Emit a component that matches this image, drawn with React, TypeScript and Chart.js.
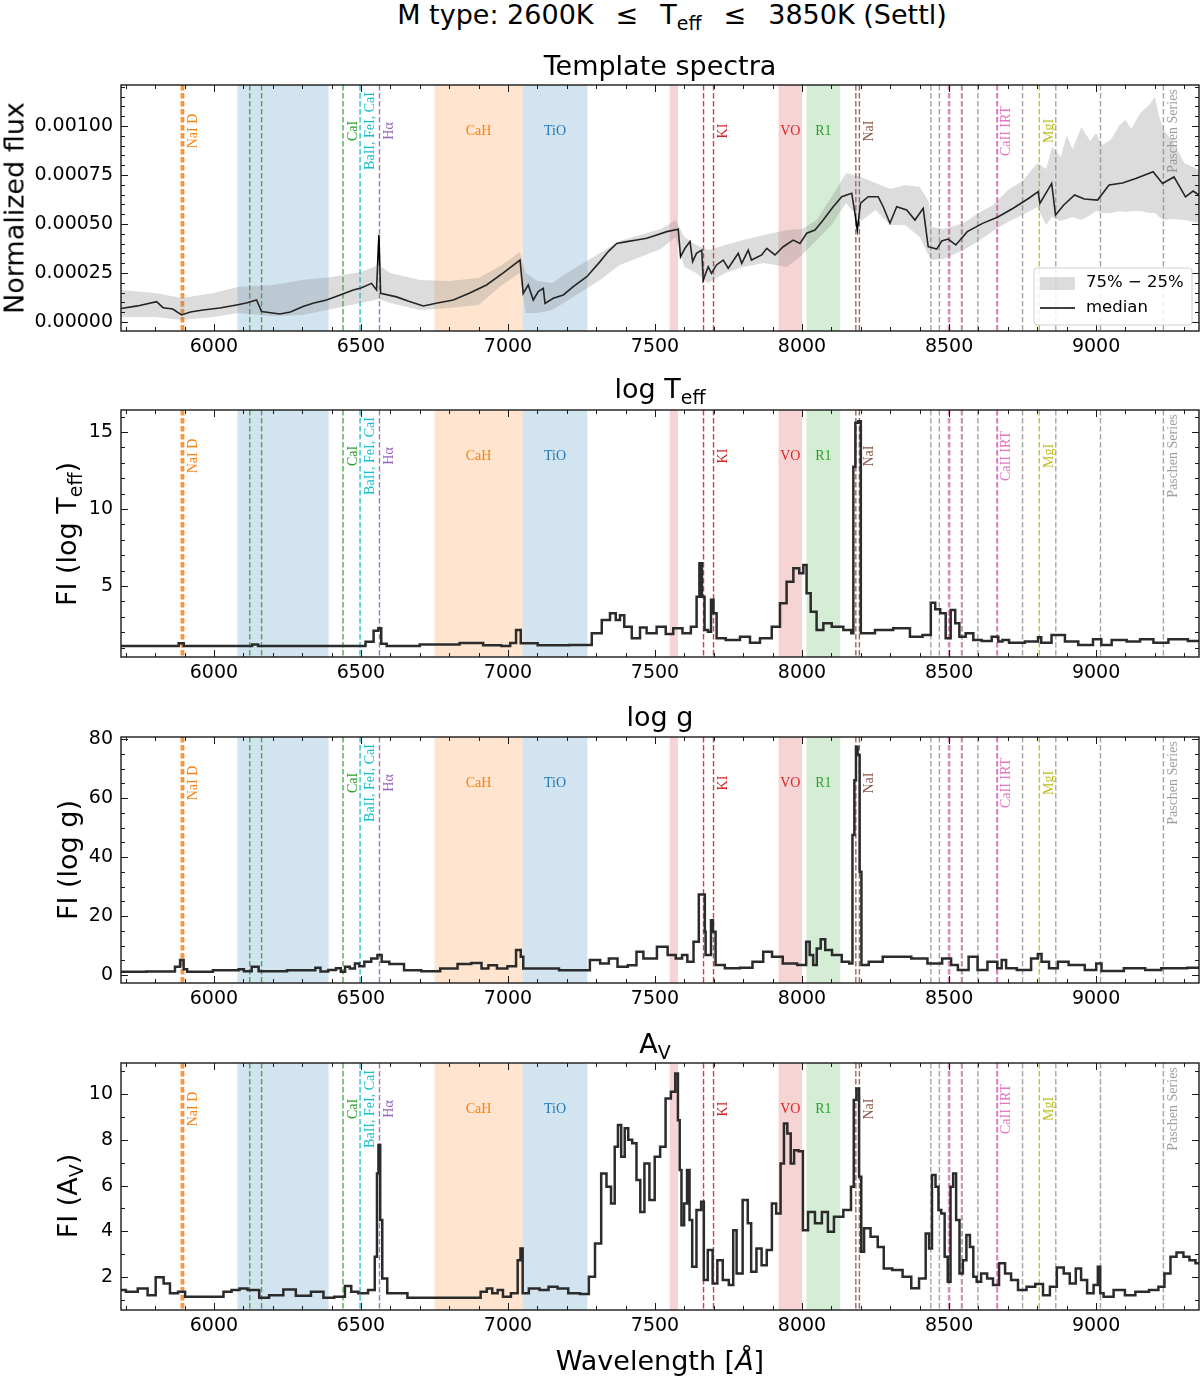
import { useEffect, useRef } from 'react'
import Chart from 'chart.js/auto'

type Pt = [number, number]

const X_MIN = 5684
const X_MAX = 9350
const xTicks = [6000, 6500, 7000, 7500, 8000, 8500, 9000]

// template spectrum, flux in units of 1e-5
const fluxMedian: Pt[] = [
  [5684, 6.9], [5740, 8.2], [5805, 10.4], [5827, 7.3], [5860, 6.6], [5890, 3.6], [5920, 5.1], [5963, 6.1],
  [6020, 7.1], [6077, 8.7], [6110, 9.7], [6145, 11.2], [6162, 5.3], [6224, 4.1], [6260, 5.1], [6303, 7.9],
  [6340, 9.7], [6383, 11.2], [6420, 13.3], [6474, 16.3], [6500, 17.3], [6536, 19.7], [6553, 16.3], [6561, 44.4],
  [6567, 14.6], [6621, 12.8], [6660, 10.7], [6712, 8.2], [6760, 9.7], [6814, 11.2], [6870, 14.8], [6927, 18.9],
  [6984, 25.0], [7041, 31.6], [7052, 14.6], [7069, 18.9], [7086, 11.2], [7103, 15.5], [7120, 17.2], [7126, 9.5],
  [7154, 12.1], [7188, 13.8], [7222, 18.0], [7268, 23.1], [7313, 30.8], [7341, 35.9], [7370, 40.1], [7404, 41.0],
  [7438, 41.8], [7472, 42.7], [7506, 44.4], [7540, 46.1], [7579, 47.3], [7587, 33.3], [7602, 37.6], [7619, 41.0],
  [7628, 30.8], [7641, 35.0], [7659, 36.7], [7664, 21.4], [7681, 28.2], [7692, 24.8], [7709, 29.1], [7732, 31.6],
  [7749, 27.4], [7783, 35.0], [7795, 29.9], [7817, 36.7], [7828, 31.6], [7863, 34.2], [7880, 37.6], [7908, 34.2],
  [7936, 38.4], [7970, 41.8], [7993, 40.1], [8016, 45.3], [8044, 46.9], [8072, 52.0], [8106, 58.8], [8135, 63.9],
  [8169, 65.7], [8180, 55.5], [8188, 46.9], [8199, 60.6], [8225, 63.9], [8259, 63.9], [8276, 58.8], [8299, 50.4],
  [8322, 58.8], [8356, 57.1], [8384, 52.0], [8412, 58.0], [8429, 38.4], [8458, 37.2], [8475, 41.3], [8497, 42.3],
  [8523, 39.3], [8562, 46.1], [8614, 50.3], [8666, 53.6], [8718, 58.0], [8770, 63.0], [8803, 66.5], [8809, 60.5],
  [8849, 70.7], [8862, 54.6], [8890, 59.7], [8927, 64.8], [8960, 62.7], [9005, 62.2], [9044, 69.9], [9090, 70.9],
  [9135, 73.2], [9194, 76.7], [9226, 70.7], [9265, 74.0], [9304, 63.8], [9330, 66.8], [9350, 64.8],
]

// [wavelength, 25th percentile, 75th percentile], units of 1e-5
const fluxQuartiles: [number, number, number][] = [
  [5684, 2.5, 16.3], [5800, 2.5, 14.8], [5890, 1.0, 12.2], [6000, 2.5, 14.8], [6080, 4.6, 17.9], [6200, 3.1, 18.9],
  [6300, 3.6, 21.4], [6400, 6.6, 23.0], [6500, 9.7, 25.5], [6560, 11.7, 29.1], [6600, 9.7, 25.0], [6700, 6.1, 21.4],
  [6800, 7.1, 20.9], [6900, 8.7, 22.4], [6980, 18.9, 29.1], [7040, 25.0, 35.7], [7060, 4.6, 25.0], [7100, 4.6, 20.9],
  [7150, 6.1, 19.9], [7200, 10.7, 25.0], [7313, 21.4, 35.2], [7380, 29.1, 41.3], [7450, 33.2, 44.4], [7520, 37.2, 47.4],
  [7570, 43.4, 52.0], [7600, 28.1, 43.4], [7640, 25.0, 39.3], [7680, 19.9, 36.7], [7740, 25.0, 39.3], [7800, 28.1, 41.8],
  [7870, 30.1, 44.4], [7950, 28.1, 46.9], [8000, 34.2, 47.4], [8050, 41.8, 52.0], [8100, 49.5, 63.8], [8150, 60.7, 76.0],
  [8200, 51.5, 74.0], [8250, 57.1, 70.9], [8300, 49.5, 67.8], [8350, 49.5, 69.9], [8400, 43.4, 68.9], [8430, 34.2, 61.7],
  [8440, 31.6, 48.5], [8480, 32.1, 47.4], [8550, 36.7, 50.5], [8600, 41.3, 55.6], [8650, 46.4, 59.7], [8700, 51.0, 67.3],
  [8750, 54.6, 71.9], [8800, 58.7, 81.1], [8830, 49.5, 78.0], [8850, 53.6, 89.3], [8880, 51.5, 84.2], [8900, 52.5, 95.4],
  [8920, 53.6, 88.2], [8950, 52.0, 99.5], [8980, 54.6, 92.3], [9000, 56.6, 96.4], [9020, 55.6, 90.3], [9050, 55.6, 92.8],
  [9080, 56.6, 100.5], [9100, 56.1, 103.0], [9120, 56.6, 98.4], [9150, 56.6, 106.6], [9180, 55.6, 110.7], [9200, 55.6, 114.8],
  [9215, 53.6, 104.6], [9230, 52.0, 97.9], [9260, 52.5, 92.3], [9300, 52.0, 81.1], [9350, 50.5, 77.5],
]

const teffFI: Pt[] = [
  [5684, 1.1], [5870, 1.1], [5890, 1.28], [5905, 1.1], [6120, 1.1], [6140, 1.2], [6160, 1.1], [6500, 1.1],
  [6531, 1.38], [6555, 2.1], [6563, 2.25], [6575, 1.25], [6600, 1.1], [6800, 1.2], [6871, 1.3], [6960, 1.15],
  [6995, 1.1], [7020, 1.3], [7035, 2.14], [7052, 1.28], [7150, 1.15], [7268, 1.17], [7302, 1.93], [7336, 2.8],
  [7358, 3.23], [7375, 2.8], [7387, 3.1], [7404, 2.35], [7438, 1.6], [7460, 2.3], [7483, 1.93], [7528, 2.35],
  [7545, 1.88], [7579, 2.25], [7608, 1.93], [7636, 2.35], [7647, 4.3], [7655, 6.47], [7664, 4.3], [7673, 2.14],
  [7687, 2.03], [7694, 4.1], [7704, 3.23], [7715, 1.6], [7766, 1.5], [7812, 1.71], [7834, 1.32], [7880, 1.6],
  [7914, 2.35], [7936, 3.88], [7959, 5.28], [7982, 6.15], [7999, 5.83], [8010, 6.36], [8021, 4.53], [8038, 3.33],
  [8061, 2.14], [8084, 2.58], [8118, 2.35], [8163, 2.14], [8172, 1.93], [8177, 12.75], [8186, 15.6], [8197, 15.7],
  [8203, 1.93], [8220, 1.93], [8276, 2.14], [8344, 2.25], [8390, 1.71], [8430, 1.82], [8446, 3.92], [8460, 3.49],
  [8480, 3.23], [8497, 1.6], [8514, 3.44], [8528, 2.58], [8542, 1.71], [8571, 1.93], [8594, 1.5], [8628, 1.43],
  [8662, 1.71], [8673, 1.4], [8690, 1.5], [8718, 1.32], [8798, 1.4], [8807, 1.67], [8820, 1.32], [8877, 1.82],
  [8911, 1.4], [8968, 1.17], [9011, 1.54], [9025, 1.17], [9081, 1.5], [9127, 1.4], [9172, 1.55], [9218, 1.32],
  [9274, 1.55], [9350, 1.43],
]

const loggFI: Pt[] = [
  [5684, 1.1], [5856, 1.2], [5879, 2.8], [5891, 5.1], [5903, 2.0], [5915, 1.1], [6078, 1.6], [6090, 2.0],
  [6114, 1.3], [6143, 2.8], [6161, 1.3], [6336, 1.6], [6354, 2.5], [6371, 1.2], [6406, 1.7], [6424, 2.3],
  [6439, 1.1], [6453, 2.8], [6471, 2.2], [6488, 3.9], [6500, 3.0], [6523, 4.5], [6547, 5.6], [6565, 6.8],
  [6576, 4.5], [6617, 3.7], [6676, 1.6], [6734, 1.3], [6805, 2.2], [6852, 3.7], [6898, 4.1], [6922, 2.2],
  [6945, 3.3], [6980, 2.2], [7016, 3.0], [7039, 8.5], [7048, 6.2], [7056, 2.2], [7144, 2.2], [7203, 1.6],
  [7261, 1.6], [7296, 5.1], [7331, 3.9], [7355, 5.6], [7390, 2.8], [7425, 3.3], [7449, 7.9], [7472, 5.6],
  [7485, 5.6], [7528, 9.6], [7558, 6.8], [7583, 5.6], [7601, 6.8], [7619, 4.5], [7643, 11.3], [7655, 27.3],
  [7668, 27.3], [7671, 14.7], [7673, 6.8], [7689, 6.8], [7692, 18.6], [7702, 14.7], [7710, 3.4], [7765, 2.3],
  [7813, 2.5], [7850, 4.5], [7886, 7.9], [7910, 6.2], [7959, 3.9], [8008, 3.4], [8020, 11.3], [8032, 6.8],
  [8044, 3.4], [8056, 9.0], [8071, 12.1], [8087, 8.5], [8117, 6.8], [8153, 4.5], [8168, 3.9], [8175, 47.5],
  [8181, 66], [8186, 77.4], [8192, 74.6], [8200, 35], [8204, 3.4], [8250, 4.5], [8299, 6.2], [8347, 6.2],
  [8396, 5.6], [8457, 3.9], [8496, 5.6], [8518, 3.4], [8542, 1.7], [8591, 6.2], [8603, 1.7], [8658, 4.5],
  [8670, 2.3], [8688, 5.1], [8700, 2.3], [8761, 1.7], [8797, 5.6], [8807, 7.1], [8822, 4.5], [8858, 2.3],
  [8882, 4.5], [8931, 3.4], [8992, 1.7], [9009, 3.9], [9028, 1.4], [9161, 2.3], [9173, 1.7], [9270, 2.3],
  [9350, 2.5],
]

const avFI: Pt[] = [
  [5684, 1.43], [5717, 1.36], [5765, 1.5], [5784, 1.21], [5820, 1.99], [5838, 1.72], [5863, 1.29], [5893, 1.36],
  [5911, 1.14], [6020, 1.14], [6045, 1.36], [6075, 1.43], [6099, 1.5], [6130, 1.43], [6148, 1.43], [6160, 1.1],
  [6215, 1.21], [6257, 1.46], [6300, 1.18], [6360, 1.36], [6385, 1.1], [6433, 1.14], [6458, 1.61], [6476, 1.36],
  [6506, 1.29], [6542, 1.43], [6552, 2.89], [6557, 6.53], [6562, 7.77], [6569, 4.49], [6576, 1.94], [6603, 1.29],
  [6713, 1.1], [6895, 1.1], [6919, 1.36], [6937, 1.5], [6956, 1.29], [6974, 1.43], [6992, 1.14], [7028, 1.29],
  [7038, 2.74], [7047, 3.25], [7053, 1.29], [7089, 1.5], [7126, 1.43], [7150, 1.58], [7187, 1.5], [7223, 1.29],
  [7266, 1.26], [7284, 2.01], [7308, 3.47], [7326, 6.53], [7344, 5.95], [7357, 5.22], [7369, 7.7], [7379, 8.65],
  [7391, 7.26], [7403, 8.51], [7415, 8.0], [7430, 7.85], [7444, 6.24], [7456, 4.85], [7472, 6.97], [7490, 5.37],
  [7508, 7.26], [7527, 7.7], [7545, 9.81], [7563, 10.1], [7575, 10.9], [7581, 8.86], [7587, 6.68], [7593, 4.27],
  [7605, 5.22], [7613, 6.68], [7622, 4.49], [7631, 2.45], [7651, 4.93], [7663, 5.29], [7669, 1.87], [7690, 3.18],
  [7702, 1.72], [7722, 2.74], [7739, 1.87], [7763, 1.65], [7769, 4.05], [7786, 2.16], [7810, 5.37], [7821, 4.35],
  [7833, 2.23], [7857, 3.25], [7868, 2.52], [7892, 3.18], [7903, 5.22], [7921, 4.78], [7933, 6.97], [7944, 8.72],
  [7956, 8.28], [7967, 6.97], [7979, 7.55], [7997, 7.5], [8009, 4.05], [8032, 4.85], [8056, 4.35], [8079, 4.85],
  [8097, 3.98], [8120, 4.64], [8161, 4.93], [8172, 5.95], [8180, 9.74], [8190, 10.25], [8198, 6.39], [8205, 3.11],
  [8217, 4.13], [8249, 3.76], [8266, 3.32], [8290, 2.38], [8324, 2.31], [8360, 2.01], [8383, 1.51], [8413, 1.94],
  [8428, 3.91], [8436, 3.25], [8448, 6.46], [8460, 5.95], [8468, 4.93], [8479, 4.78], [8491, 2.89], [8500, 1.79],
  [8510, 5.95], [8518, 6.53], [8530, 4.49], [8541, 2.16], [8553, 2.74], [8565, 3.84], [8577, 3.32], [8588, 2.01],
  [8600, 1.79], [8618, 2.16], [8641, 1.94], [8658, 1.65], [8682, 2.6], [8699, 2.16], [8723, 1.87], [8746, 1.43],
  [8781, 1.58], [8805, 1.7], [8834, 1.21], [8852, 1.58], [8881, 2.42], [8899, 2.16], [8922, 1.72], [8940, 2.38],
  [8958, 1.87], [8981, 1.29], [9002, 1.65], [9010, 2.45], [9018, 1.29], [9033, 1.14], [9086, 1.43], [9110, 1.21],
  [9157, 1.36], [9203, 1.43], [9221, 1.58], [9244, 2.16], [9262, 2.89], [9285, 3.07], [9309, 2.89], [9326, 2.74],
  [9350, 2.6],
]

// molecular bands
const bandFrom = [6080, 6750, 7050, 7550, 7920, 8015]
const bandTo = [6390, 7050, 7270, 7578, 8000, 8130]
const bandColors = [
  'rgba(31,119,180,0.2)', 'rgba(255,127,14,0.2)', 'rgba(31,119,180,0.2)',
  'rgba(214,39,40,0.2)', 'rgba(214,39,40,0.2)', 'rgba(44,160,44,0.2)',
]
const bandLabels = ['', 'CaH', 'TiO', '', 'VO', 'R1']
const bandLabelColors = ['', '#ff7f0e', '#1f77b4', '', '#d62728', '#2ca02c']

// atomic lines
const lineWl = [
  5890, 5896, 6122, 6162, 6439, 6497, 6563, 7665, 7699, 8183, 8195,
  8438, 8467, 8502, 8545, 8598, 8665, 8750, 8863, 9015, 9229,
  8498, 8542, 8662, 8807,
]
const lineColors = [
  'rgba(255,127,14,0.85)', 'rgba(255,127,14,0.85)', 'rgba(44,160,44,0.85)', 'rgba(44,160,44,0.85)',
  'rgba(44,160,44,0.85)', 'rgba(23,190,207,0.9)', 'rgba(148,103,189,0.9)', 'rgba(214,39,40,0.9)',
  'rgba(214,39,40,0.9)', 'rgba(140,86,75,0.9)', 'rgba(140,86,75,0.9)',
  'rgba(127,127,127,0.7)', 'rgba(127,127,127,0.7)', 'rgba(127,127,127,0.7)', 'rgba(127,127,127,0.7)',
  'rgba(127,127,127,0.7)', 'rgba(127,127,127,0.7)', 'rgba(127,127,127,0.7)', 'rgba(127,127,127,0.7)',
  'rgba(127,127,127,0.7)', 'rgba(127,127,127,0.7)',
  'rgba(227,119,194,0.85)', 'rgba(227,119,194,0.85)', 'rgba(227,119,194,0.85)', 'rgba(188,189,34,0.9)',
]
const labelText = ['NaI D', 'CaI', 'BaII, FeI, CaI', 'Hα', 'KI', 'NaI', 'CaII IRT', 'MgI', 'Paschen Series']
const labelWl = [5896, 6439, 6497, 6563, 7699, 8195, 8662, 8807, 9229]
const labelColors = [
  '#ff7f0e', '#2ca02c', '#17becf', '#9467bd', '#d62728', '#8c564b', '#e377c2', '#bcbd22', 'rgba(127,127,127,0.75)',
]

const PAD_TOP = 10
const AXIS_H = 40
const AXIS_W = 121

const markerPlugin = {
  id: 'markers',
  beforeDatasetsDraw(chart: any) {
    const { ctx, chartArea: a, scales } = chart
    const x = scales.x
    ctx.save()
    ctx.beginPath()
    ctx.rect(a.left, a.top, a.right - a.left, a.bottom - a.top)
    ctx.clip()
    bandFrom.forEach((lo, i) => {
      const x0 = x.getPixelForValue(lo)
      const x1 = x.getPixelForValue(bandTo[i])
      ctx.fillStyle = bandColors[i]
      ctx.fillRect(x0, a.top, x1 - x0, a.bottom - a.top)
    })
    ctx.setLineDash([5.5, 2.5])
    lineWl.forEach((wl, i) => {
      const px = x.getPixelForValue(wl)
      ctx.strokeStyle = lineColors[i]
      ctx.lineWidth = i < 2 ? 2 : 1.4
      ctx.beginPath()
      ctx.moveTo(px, a.top)
      ctx.lineTo(px, a.bottom)
      ctx.stroke()
    })
    ctx.setLineDash([])
    ctx.font = '14px "Liberation Serif"'
    ctx.textAlign = 'center'
    ctx.textBaseline = 'middle'
    bandLabels.forEach((t, i) => {
      if (!t) return
      const cx = (x.getPixelForValue(bandFrom[i]) + x.getPixelForValue(bandTo[i])) / 2
      ctx.fillStyle = bandLabelColors[i]
      ctx.fillText(t, cx, a.top + 46)
    })
    labelText.forEach((t, i) => {
      ctx.save()
      ctx.translate(x.getPixelForValue(labelWl[i]) + 10, a.top + 46)
      ctx.rotate(-Math.PI / 2)
      ctx.fillStyle = labelColors[i]
      ctx.fillText(t, 0, 0)
      ctx.restore()
    })
    ctx.restore()
  },
}

function framePlugin(yMinor: number, majorEvery: number) {
  return {
    id: 'frame',
    afterDraw(chart: any) {
      const { ctx, chartArea: a, scales } = chart
      const xs = scales.x
      const ys = scales.y
      ctx.save()
      ctx.strokeStyle = '#1a1a1a'
      ctx.lineWidth = 1
      for (let v = 5700; v <= X_MAX; v += 100) {
        const px = Math.round(xs.getPixelForValue(v)) + 0.5
        const len = v % 500 === 0 ? 7 : 4
        ctx.beginPath()
        ctx.moveTo(px, a.bottom)
        ctx.lineTo(px, a.bottom - len)
        ctx.moveTo(px, a.top)
        ctx.lineTo(px, a.top + len)
        ctx.stroke()
      }
      const k0 = Math.ceil(ys.min / yMinor)
      const k1 = Math.floor(ys.max / yMinor)
      for (let k = k0; k <= k1; k++) {
        const py = Math.round(ys.getPixelForValue(k * yMinor)) + 0.5
        const len = k % majorEvery === 0 ? 7 : 4
        ctx.beginPath()
        ctx.moveTo(a.left, py)
        ctx.lineTo(a.left + len, py)
        ctx.moveTo(a.right, py)
        ctx.lineTo(a.right - len, py)
        ctx.stroke()
      }
      ctx.lineWidth = 1.4
      ctx.strokeRect(a.left, a.top, a.right - a.left, a.bottom - a.top)
      ctx.restore()
    },
  }
}

const legendPlugin = {
  id: 'quartileLegend',
  afterDraw(chart: any) {
    const { ctx, chartArea: a } = chart
    const l = a.right - 165
    const t = a.bottom - 63
    ctx.save()
    ctx.fillStyle = 'rgba(255,255,255,0.85)'
    ctx.strokeStyle = '#d0d0d0'
    ctx.lineWidth = 1
    ctx.beginPath()
    ctx.roundRect(l, t, 158, 57, 3)
    ctx.fill()
    ctx.stroke()
    ctx.fillStyle = 'rgba(128,128,128,0.28)'
    ctx.fillRect(l + 6, t + 9, 35, 13)
    ctx.strokeStyle = '#000'
    ctx.lineWidth = 1.6
    ctx.beginPath()
    ctx.moveTo(l + 6, t + 40)
    ctx.lineTo(l + 41, t + 40)
    ctx.stroke()
    ctx.fillStyle = '#000'
    ctx.font = '16.5px "DejaVu Sans"'
    ctx.textAlign = 'left'
    ctx.textBaseline = 'middle'
    ctx.fillText('75% − 25%', l + 52, t + 15)
    ctx.fillText('median', l + 52, t + 40)
    ctx.restore()
  },
}

const toXY = (pts: Pt[]) => pts.map(([x, y]) => ({ x, y }))

function fluxDatasets() {
  return [
    {
      data: fluxQuartiles.map(([x, , hi]) => ({ x, y: hi })),
      borderColor: 'transparent',
      borderWidth: 0,
      backgroundColor: 'rgba(128,128,128,0.28)',
      fill: '+1',
    },
    {
      data: fluxQuartiles.map(([x, lo]) => ({ x, y: lo })),
      borderColor: 'transparent',
      borderWidth: 0,
      fill: false,
    },
    { data: toXY(fluxMedian), borderColor: '#000', borderWidth: 1.6, fill: false },
  ]
}

const fiDatasets = (pts: Pt[]) => () => [
  { data: toXY(pts), borderColor: '#2b2b2b', borderWidth: 2.5, fill: false, stepped: 'middle' },
]

interface PanelProps {
  top: number
  bottom: number
  yMin: number
  yMax: number
  yTicks: number[]
  yMinor: number
  majorEvery: number
  fmt: (v: number) => string
  build: () => any[]
  legend?: boolean
}

function Panel({ top, bottom, yMin, yMax, yTicks, yMinor, majorEvery, fmt, build, legend }: PanelProps) {
  const canvasRef = useRef<HTMLCanvasElement>(null)
  const height = PAD_TOP + (bottom - top) + AXIS_H

  useEffect(() => {
    if (!canvasRef.current) return
    const tickFont = { family: 'DejaVu Sans', size: 19 }
    const plugins: any[] = [markerPlugin, framePlugin(yMinor, majorEvery)]
    if (legend) plugins.push(legendPlugin)

    const chart = new Chart(canvasRef.current, {
      type: 'line',
      data: { datasets: build() },
      options: {
        animation: false,
        responsive: false,
        maintainAspectRatio: false,
        layout: { padding: { top: PAD_TOP, right: 1, left: 0, bottom: 0 } },
        elements: { point: { radius: 0 }, line: { tension: 0 } },
        plugins: { legend: { display: false }, tooltip: { enabled: false } },
        scales: {
          x: {
            type: 'linear',
            min: X_MIN,
            max: X_MAX,
            grid: { display: false, drawTicks: false },
            border: { display: false },
            afterBuildTicks: (s: any) => {
              s.ticks = xTicks.map((value) => ({ value }))
            },
            afterFit: (s: any) => {
              s.height = AXIS_H
              s.paddingLeft = 0
              s.paddingRight = 0
            },
            ticks: {
              font: tickFont,
              color: '#000',
              padding: 5,
              maxRotation: 0,
              autoSkip: false,
              callback: (v: any) => String(v),
            },
          },
          y: {
            type: 'linear',
            min: yMin,
            max: yMax,
            grid: { display: false, drawTicks: false },
            border: { display: false },
            afterBuildTicks: (s: any) => {
              s.ticks = yTicks.map((value) => ({ value }))
            },
            afterFit: (s: any) => {
              s.width = AXIS_W
              s.paddingTop = 0
              s.paddingBottom = 0
            },
            ticks: { font: tickFont, color: '#000', padding: 8, autoSkip: false, callback: (v: any) => fmt(Number(v)) },
          },
        },
      } as any,
      plugins,
    })

    return () => {
      chart.destroy()
    }
  }, [])

  return (
    <canvas
      ref={canvasRef}
      width={1200}
      height={height}
      style={{ position: 'absolute', left: 0, top: top - PAD_TOP, width: 1200, height }}
    />
  )
}

const sub = (t: string) => (
  <span style={{ fontSize: '0.7em', position: 'relative', top: '0.3em' }}>{t}</span>
)

function Text({ x, y, rotate, children }: { x: number; y: number; rotate?: boolean; children: any }) {
  return (
    <div
      style={{
        position: 'absolute',
        left: x,
        top: y,
        transform: `translate(-50%, -50%)${rotate ? ' rotate(-90deg)' : ''}`,
        fontSize: 27,
        lineHeight: 1,
        whiteSpace: 'nowrap',
        color: '#000',
      }}
    >
      {children}
    </div>
  )
}

export default function App() {
  const le = <span style={{ margin: '0 0.5em' }}>≤</span>
  return (
    <div
      style={{
        position: 'absolute',
        left: 0,
        top: 0,
        width: 1200,
        height: 1377,
        background: '#fff',
        fontFamily: '"DejaVu Sans", sans-serif',
        overflow: 'hidden',
      }}
    >
      <Panel
        top={85}
        bottom={331}
        yMin={-4.6}
        yMax={120.9}
        yTicks={[0, 25, 50, 75, 100]}
        yMinor={5}
        majorEvery={5}
        fmt={(v) => (v / 1e5).toFixed(5)}
        build={fluxDatasets}
        legend
      />
      <Panel
        top={410}
        bottom={657}
        yMin={0.39}
        yMax={16.43}
        yTicks={[5, 10, 15]}
        yMinor={1}
        majorEvery={5}
        fmt={(v) => String(v)}
        build={fiDatasets(teffFI)}
      />
      <Panel
        top={737}
        bottom={983}
        yMin={-2.7}
        yMax={80.7}
        yTicks={[0, 20, 40, 60, 80]}
        yMinor={5}
        majorEvery={4}
        fmt={(v) => String(v)}
        build={fiDatasets(loggFI)}
      />
      <Panel
        top={1063}
        bottom={1310}
        yMin={0.56}
        yMax={11.36}
        yTicks={[2, 4, 6, 8, 10]}
        yMinor={1}
        majorEvery={2}
        fmt={(v) => String(v)}
        build={fiDatasets(avFI)}
      />

      <Text x={672} y={14}>
        M type: 2600K {le} T{sub('eff')} {le} 3850K (Settl)
      </Text>
      <Text x={660} y={65}>Template spectra</Text>
      <Text x={660} y={388}>log T{sub('eff')}</Text>
      <Text x={660} y={716}>log g</Text>
      <Text x={655} y={1043}>A{sub('V')}</Text>

      <Text x={14} y={208} rotate>Normalized flux</Text>
      <Text x={66} y={534} rotate>FI (log T{sub('eff')})</Text>
      <Text x={67} y={860} rotate>FI (log g)</Text>
      <Text x={67} y={1196} rotate>FI (A{sub('V')})</Text>

      <Text x={660} y={1360}>
        Wavelength [<span style={{ fontStyle: 'italic' }}>Å</span>]
      </Text>
    </div>
  )
}
